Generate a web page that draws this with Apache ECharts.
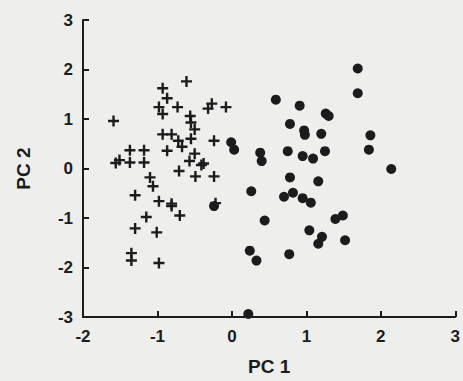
<!DOCTYPE html>
<html>
<head>
<meta charset="utf-8">
<script src="https://cdn.jsdelivr.net/npm/echarts@6/dist/echarts.min.js"></script>
<style>
html,body{margin:0;padding:0;background:#eeeeec;}
#chart{width:463px;height:381px;}
</style>
</head>
<body>
<div id="chart"></div>
<script>
// Group 1 (plus markers): PC1, PC2
const crossPC1 = [-1.59,-0.98,-0.93,-0.87,-0.61,-0.73,-0.93,-0.56,-0.55,-0.50,-0.93,-0.81,-0.72,-0.67,-0.55,-0.32,-0.27,-0.08,-0.24,-1.37,-1.18,-0.87,-1.56,-1.51,-1.37,-1.18,-0.50,-0.57,-0.41,-0.38,-0.71,-0.49,-0.24,-1.10,-1.06,-1.30,-0.98,-0.81,-0.81,-0.70,-1.15,-1.30,-1.01,-1.35,-1.35,-0.98,-0.22];
const crossPC2 = [0.96,1.24,1.62,1.42,1.76,1.24,1.10,1.06,0.93,0.79,0.69,0.69,0.56,0.44,0.60,1.21,1.31,1.24,0.56,0.37,0.37,0.36,0.11,0.17,0.12,0.12,0.30,0.15,0.07,0.10,-0.05,-0.16,-0.16,-0.18,-0.36,-0.54,-0.66,-0.71,-0.76,-0.95,-0.98,-1.21,-1.29,-1.71,-1.86,-1.91,-0.70];
// Group 2 (filled circles): PC1, PC2
const dotPC1 = [1.69,1.69,0.59,0.91,1.26,1.30,0.78,0.97,0.98,1.20,1.86,1.84,-0.01,0.03,0.38,0.40,0.75,0.95,1.09,1.25,2.14,0.78,1.16,0.26,0.70,0.82,0.95,1.06,-0.24,0.44,1.39,1.49,1.04,1.21,1.16,1.52,0.24,0.33,0.77,0.22];
const dotPC2 = [2.02,1.52,1.39,1.27,1.11,1.06,0.90,0.77,0.68,0.70,0.67,0.38,0.53,0.38,0.32,0.15,0.35,0.25,0.20,0.35,-0.01,-0.18,-0.26,-0.46,-0.57,-0.49,-0.60,-0.69,-0.76,-1.05,-1.02,-0.95,-1.25,-1.38,-1.52,-1.45,-1.66,-1.86,-1.73,-2.94];
const xTicks = [-2,-1,0,1,2,3];
const yTicks = [-3,-2,-1,0,1,2,3];

const crossData = crossPC1.map((v,i)=>[v,crossPC2[i]]);
const dotData = dotPC1.map((v,i)=>[v,dotPC2[i]]);
const ink = '#1c1c1c';
const font = 'Liberation Sans, Arial, sans-serif';

const chart = echarts.init(document.getElementById('chart'), null, {renderer: 'svg'});
chart.setOption({
  animation: false,
  grid: {left: 83, right: 6, top: 20, bottom: 58},
  xAxis: {
    type: 'value', min: xTicks[0], max: xTicks[xTicks.length-1], interval: 1,
    name: 'PC 1', nameLocation: 'middle', nameGap: 40,
    nameTextStyle: {color: ink, fontSize: 19, fontWeight: 'bold', fontFamily: font},
    axisLine: {show: true, onZero: false, lineStyle: {color: ink, width: 2}},
    axisTick: {show: true, inside: true, length: 6, lineStyle: {color: ink, width: 2}},
    axisLabel: {color: ink, fontSize: 17, fontWeight: 'bold', fontFamily: font, margin: 11},
    splitLine: {show: false}
  },
  yAxis: {
    type: 'value', min: yTicks[0], max: yTicks[yTicks.length-1], interval: 1,
    name: 'PC 2', nameLocation: 'middle', nameGap: 50, nameRotate: 90,
    nameTextStyle: {color: ink, fontSize: 19, fontWeight: 'bold', fontFamily: font},
    axisLine: {show: true, onZero: false, lineStyle: {color: ink, width: 2}},
    axisTick: {show: true, inside: true, length: 6, lineStyle: {color: ink, width: 2}},
    axisLabel: {color: ink, fontSize: 17, fontWeight: 'bold', fontFamily: font, margin: 10},
    splitLine: {show: false}
  },
  series: [
    {
      type: 'scatter', data: crossData,
      symbol: 'path://M-1.2,-5.5H1.2V-1.2H5.5V1.2H1.2V5.5H-1.2V1.2H-5.5V-1.2H-1.2Z',
      symbolSize: 11, itemStyle: {color: ink, opacity: 1}
    },
    {
      type: 'scatter', data: dotData,
      symbol: 'circle', symbolSize: 10, itemStyle: {color: ink, opacity: 1}, clip: false
    }
  ]
});
</script>
</body>
</html>
